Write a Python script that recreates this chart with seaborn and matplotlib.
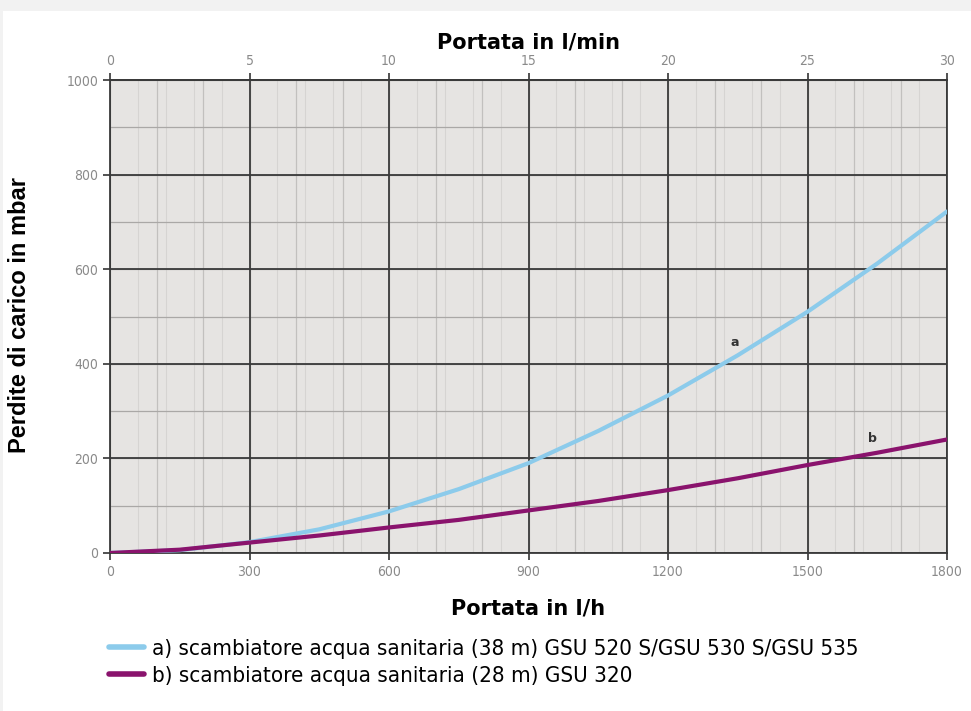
import matplotlib
matplotlib.use("Agg")
import matplotlib.pyplot as plt
import seaborn as sns
import pandas as pd
import numpy as np
from matplotlib.patches import Rectangle
from matplotlib.lines import Line2D

# ---- data ----
flow_lh = [0, 150, 300, 450, 600, 750, 900, 1050, 1200, 1350, 1500, 1650, 1800]
loss_a = [0, 6, 23, 50, 88, 135, 190, 258, 333, 418, 510, 612, 722]
loss_b = [0, 7, 22, 37, 54, 70, 90, 110, 133, 158, 186, 212, 240]
series_names = ["a) scambiatore acqua sanitaria (38 m) GSU 520 S/GSU 530 S/GSU 535",
                "b) scambiatore acqua sanitaria (28 m) GSU 320"]
x_ticks = [0, 300, 600, 900, 1200, 1500, 1800]
y_ticks = [0, 200, 400, 600, 800, 1000]
top_ticks = [0, 5, 10, 15, 20, 25, 30]

df = pd.DataFrame({
    "flow": flow_lh * 2,
    "loss": loss_a + loss_b,
    "serie": [series_names[0]] * len(flow_lh) + [series_names[1]] * len(flow_lh),
})

sns.set_theme(style="white")
plt.rcParams["font.family"] = ["DejaVu Sans"]
plt.rcParams["text.color"] = "black"
plt.rcParams["axes.labelcolor"] = "black"

fig = plt.figure(figsize=(9.71, 7.11), dpi=100)
fig.patch.set_facecolor("#f2f2f2")
fig.patches.append(Rectangle((3 / 971, 0), 1, 1 - 11 / 711, transform=fig.transFigure,
                             facecolor="white", edgecolor="none", zorder=-10))

ax = fig.add_axes([110 / 971, 1 - 553 / 711, 837 / 971, 473 / 711])
ax.set_facecolor("#e6e4e2")

# grid lines
for v in np.arange(0, 1801, 60):
    ax.axvline(v, color="#d6d4d2", lw=0.8, zorder=0)
for v in np.arange(0, 1801, 100):
    ax.axvline(v, color="#c2c0be", lw=0.9, zorder=0.5)
for v in np.arange(0, 1001, 100):
    ax.axhline(v, color="#aaa8a6", lw=0.9, zorder=0.5)
for v in x_ticks:
    ax.axvline(v, color="#3a3a3a", lw=1.3, zorder=1)
for v in y_ticks:
    ax.axhline(v, color="#3a3a3a", lw=1.3, zorder=1)

palette = {series_names[0]: "#8ccbeb", series_names[1]: "#8a136d"}
sns.lineplot(data=df, x="flow", y="loss", hue="serie", palette=palette, ax=ax,
             linewidth=3, legend=False, zorder=3)

ax.set_xlim(0, 1800)
ax.set_ylim(0, 1000)
ax.set_xticks(x_ticks)
ax.set_yticks(y_ticks)
ax.tick_params(axis="both", which="major", length=5, width=1.2, color="#333333",
               labelcolor="#8a8a8a", labelsize=10, direction="out", bottom=True, left=True)
for lab in ax.get_xticklabels() + ax.get_yticklabels():
    lab.set_fontstretch("condensed")
for s in ax.spines.values():
    s.set_color("#3a3a3a")
    s.set_linewidth(1.3)
ax.set_xlabel("Portata in l/h", fontsize=15, fontweight="bold", color="black", labelpad=14)
ax.set_ylabel("")

fig.text(20 / 971, 1 - 315 / 711, "Perdite di carico in mbar", rotation=90,
         fontsize=17, fontweight="bold", family=["Liberation Sans", "DejaVu Sans"],
         ha="center", va="center", color="black")

top = ax.secondary_xaxis("top", functions=(lambda x: x / 60.0, lambda x: x * 60.0))
top.set_xticks(top_ticks)
top.tick_params(length=5, width=1.2, color="#333333", labelcolor="#8a8a8a", labelsize=10)
for lab in top.get_xticklabels():
    lab.set_fontstretch("condensed")
top.set_xlabel("Portata in l/min", fontsize=15, fontweight="bold", labelpad=4, color="black")

ax.text(1343, 444, "a", fontsize=9, fontweight="bold", color="#333333", ha="center", va="center", zorder=4)
ax.text(1640, 243, "b", fontsize=9, fontweight="bold", color="#333333", ha="center", va="center", zorder=4)

# legend
handles = [Line2D([0], [0], color=palette[n], lw=4) for n in series_names]
leg = fig.legend(handles, series_names, loc="upper left", bbox_to_anchor=(100 / 971, 1 - 630 / 711),
                 frameon=False, handlelength=1.6, handletextpad=0.35,
                 labelspacing=0.3, borderaxespad=0,
                 prop={"size": 16, "stretch": "condensed", "family": "DejaVu Sans"})
for t in leg.get_texts():
    t.set_color("black")

fig.savefig("out.png", dpi=100, facecolor=fig.get_facecolor())
